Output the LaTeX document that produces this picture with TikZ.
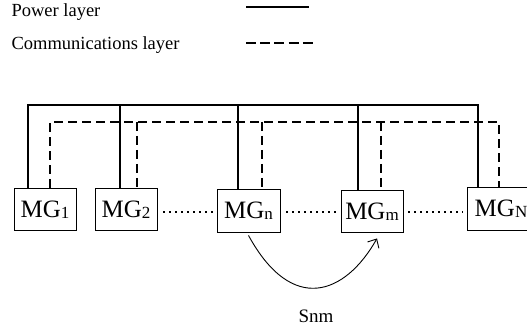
\documentclass[tikz,border=0pt]{standalone}
\usepackage{fontspec}
\setmainfont{Liberation Serif}
\usetikzlibrary{arrows.meta,calc}
\newcommand\mgsub[1]{\raisebox{-1pt}{\fontsize{17}{20}\selectfont #1}}
\begin{document}
\begin{tikzpicture}[x=1pt,y=-1pt,
  mgbox/.style={draw, line width=0.9pt, inner sep=0pt, minimum height=42pt,
    font=\fontsize{25}{30}\selectfont, text height=16.5pt, text depth=0pt},
  power/.style={line width=2.8pt},
  comm/.style={line width=2.4pt, dash pattern=on 9pt off 5pt},
  legcomm/.style={line width=2.6pt, dash pattern=on 10pt off 4.2pt},
  dots/.style={line width=1.8pt, dash pattern=on 1.6pt off 4.4pt},
  legend/.style={anchor=base west, font=\fontsize{18.5}{22}\selectfont},
  flow/.style={line width=0.9pt, -{Straight Barb[length=7pt,width=13pt]}}]
\useasboundingbox (0,0) rectangle (527,331);
\clip (0,0) rectangle (527,331);

% legend
\node[legend] (pw) at (8,17) {Power layer};
\node[legend] (cm) at (8,50) {Communications layer};
\coordinate (lp1) at (246,7);  \coordinate (lp2) at (309,7);
\coordinate (lc1) at (246,43); \coordinate (lc2) at (313,43);
\draw[power] (lp1) -- (lp2);
\draw[legcomm] (lc1) -- (lc2);

% microgrids
\node[mgbox, minimum width=62pt] (mg1) at (45,209) {MG\mgsub{1}};
\node[mgbox, minimum width=62pt] (mg2) at (126,209) {MG\mgsub{2}};
\node[mgbox, minimum width=63pt, minimum height=43pt] (mgn) at (248.5,210.5) {MG\mgsub{n}};
\node[mgbox, minimum width=62pt] (mgm) at (372,211) {MG\mgsub{m}};
\node[mgbox, minimum width=68pt, minimum height=43pt] (mgN) at (501,208.5) {MG\mgsub{N}};

% power layer
\coordinate (p1) at (28,105);
\coordinate (p2) at (120,105);
\coordinate (p3) at (238,105);
\coordinate (p4) at (358,105);
\coordinate (p5) at (478,105);
\draw[power] (p1 |- mg1.north) -- (p1) -- (p5) -- (p5 |- mgN.north);
\draw[power] (p2) -- (p2 |- mg2.north);
\draw[power] (p3) -- (p3 |- mgn.north);
\draw[power] (p4) -- (p4 |- mgm.north);

% communications layer
\coordinate (c1) at (50,122);
\coordinate (c2) at (137,122);
\coordinate (c3) at (262,122);
\coordinate (c4) at (381,122);
\coordinate (c5) at (499,122);
\draw[comm] (c1 |- mg1.north) -- (c1) -- (c5) -- (c5 |- mgN.north);
\draw[comm] (c2) -- (c2 |- mg2.north);
\draw[comm] (c3) -- (c3 |- mgn.north);
\draw[comm] (c4) -- (c4 |- mgm.north);

% dotted links
\coordinate (dl) at (0,212);
\draw[dots] ($(mg2.east |- dl)+(6,0)$) -- ($(mgn.west |- dl)+(-4,0)$);
\draw[dots] ($(mgn.east |- dl)+(6,0)$) -- ($(mgm.west |- dl)+(-4,0)$);
\draw[dots] ($(mgm.east |- dl)+(5,0)$) -- ($(mgN.west |- dl)+(-4,0)$);

% exchange arrow
\draw[flow] ($(mgn.south)+(0,3)$) .. controls (292,315) and (345,295) .. ($(mgm.south)+(5,6)$);
\node[anchor=base, font=\fontsize{19}{22}\selectfont] (snm) at (316,322) {Snm};
\end{tikzpicture}
\end{document}
